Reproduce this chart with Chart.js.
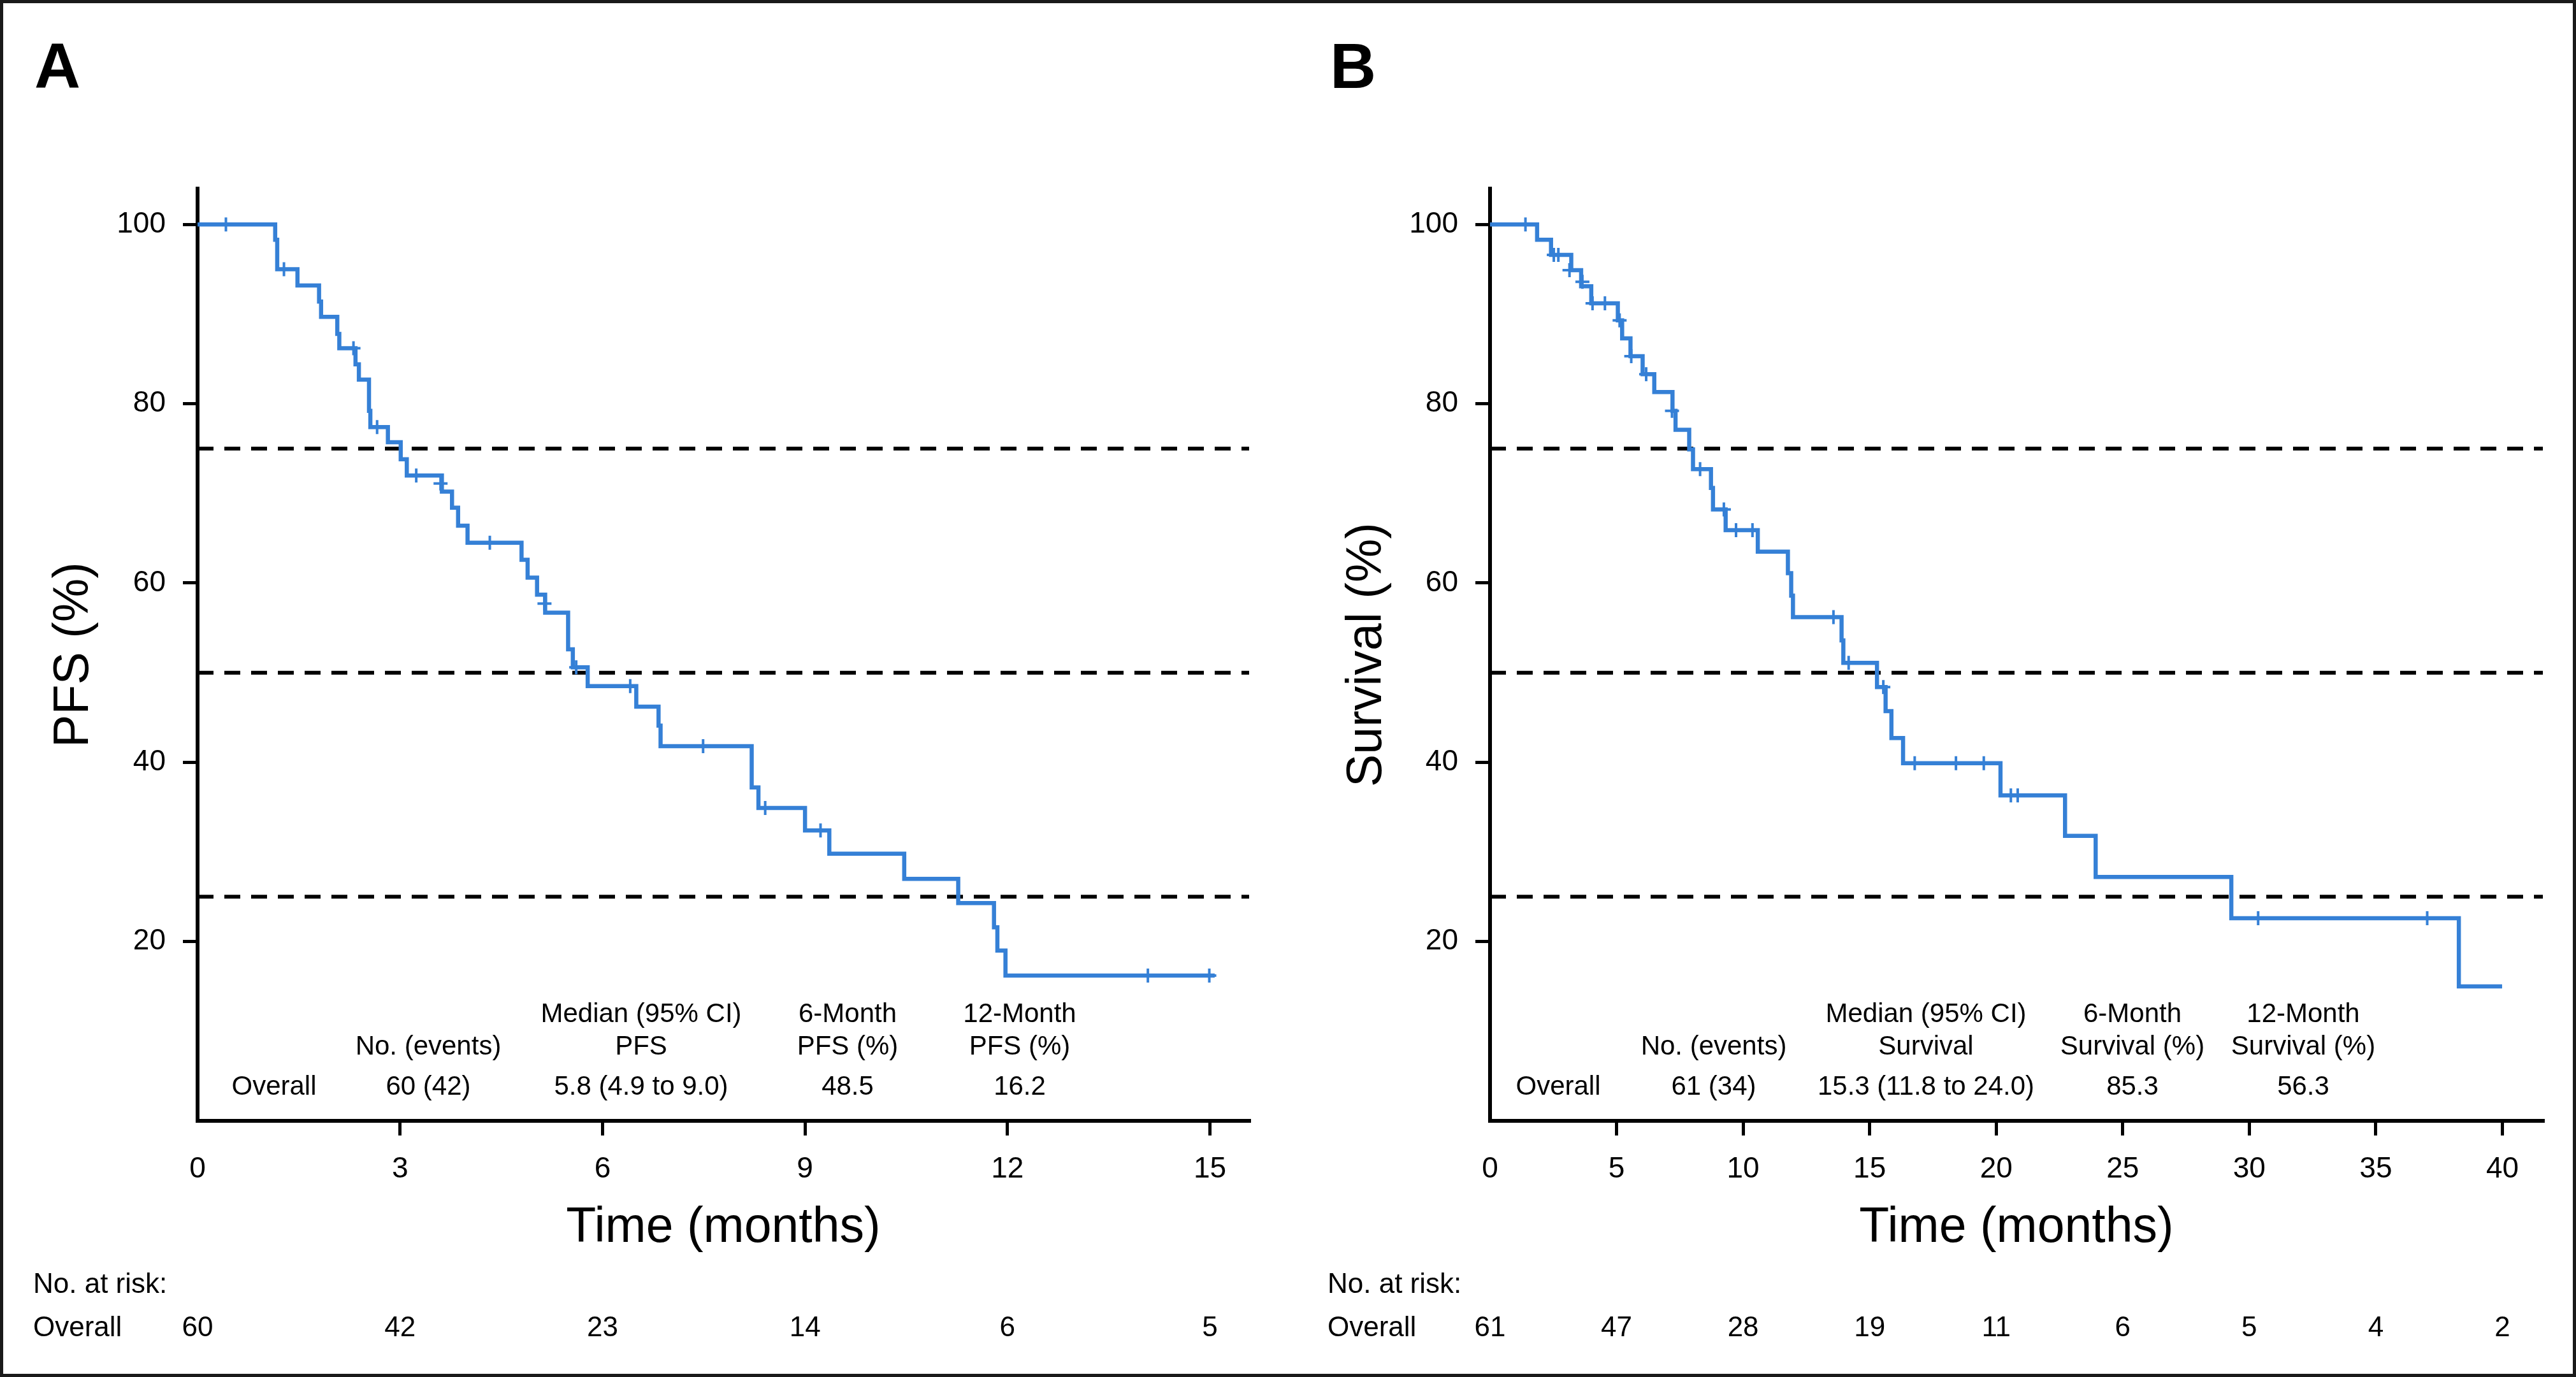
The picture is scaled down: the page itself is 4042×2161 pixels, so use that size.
<!DOCTYPE html>
<html>
<head>
<meta charset="utf-8">
<title>Kaplan-Meier: PFS and overall survival</title>
<script src="https://cdn.jsdelivr.net/npm/chart.js@4.4.1/dist/chart.umd.min.js"></script>
<style>
  html, body { margin: 0; padding: 0; background: #fff; }
  #wrap { position: relative; width: 4042px; height: 2161px; overflow: hidden; }
  .panel { position: absolute; top: 0; width: 2021px; height: 2161px; }
  #frame { position: absolute; left: 0; top: 0; width: 4042px; height: 2161px; box-sizing: border-box;
           border: 5px solid #1a1a1a; pointer-events: none; }
</style>
</head>
<body>
<div id="wrap">
  <div class="panel" style="left:0"><canvas id="pfsChart" width="2021" height="2161"></canvas></div>
  <div class="panel" style="left:2021px"><canvas id="osChart" width="2021" height="2161"></canvas></div>
  <div id="frame"></div>
</div>
<script>
const FONT = "'Liberation Sans', Arial, Helvetica, sans-serif";
const BLUE = '#3580d6';

// A - progression-free survival (months, %)
const pfsTime = [0, 1.15, 1.18, 1.48, 1.80, 1.83, 2.07, 2.10, 2.34, 2.39, 2.54, 2.56, 2.82, 3.01, 3.10,
  3.62, 3.77, 3.86, 4.00, 4.80, 4.89, 5.03, 5.15, 5.49, 5.56, 5.78, 6.50, 6.83, 6.86, 8.21, 8.31,
  9.00, 9.36, 10.47, 11.27, 11.80, 11.85, 11.97, 15.07];
const pfsSurv = [100, 98.3, 95.0, 93.2, 91.4, 89.7, 87.8, 86.2, 84.4, 82.7, 79.2, 77.4, 75.7, 73.8, 72.0,
  70.2, 68.4, 66.4, 64.5, 62.6, 60.6, 58.7, 56.7, 52.6, 50.6, 48.5, 46.2, 44.1, 41.8, 37.2, 34.9,
  32.4, 29.8, 27.0, 24.3, 21.6, 19.0, 16.2, 16.2];
const pfsCensorTime = [0.42, 1.28, 2.31, 2.66, 3.24, 3.60, 4.33, 5.14, 5.61, 6.41, 7.49, 8.41, 9.23, 14.08, 14.99];
const pfsCensorSurv = [100, 95.0, 86.2, 77.4, 72.0, 71.1, 64.5, 57.7, 50.6, 48.5, 41.8, 34.9, 32.4, 16.2, 16.2];
const pfsRiskTime = [0, 3, 6, 9, 12, 15];
const pfsAtRisk = [60, 42, 23, 14, 6, 5];
const pfsHead1 = ['', '', 'Median (95% CI)', '6-Month', '12-Month'];
const pfsHead2 = ['', 'No. (events)', 'PFS', 'PFS (%)', 'PFS (%)'];
const pfsRow = ['Overall', '60 (42)', '5.8 (4.9 to 9.0)', '48.5', '16.2'];

// B - overall survival (months, %)
const osTime = [0, 1.86, 2.41, 3.21, 3.60, 4.00, 5.05, 5.22, 5.55, 6.03, 6.49, 7.21, 7.33, 7.87, 8.02,
  8.73, 8.81, 9.31, 10.58, 11.77, 11.90, 11.97, 13.89, 13.96, 15.29, 15.63, 15.86, 16.32, 20.17,
  22.72, 23.93, 29.29, 38.28, 39.99];
const osSurv = [100, 98.3, 96.6, 94.9, 93.1, 91.2, 89.3, 87.3, 85.3, 83.3, 81.3, 79.2, 77.1, 74.9, 72.7,
  70.6, 68.2, 65.9, 63.5, 61.1, 58.6, 56.2, 53.6, 51.1, 48.4, 45.7, 42.7, 39.9, 36.3,
  31.8, 27.2, 22.6, 15.0, 15.0];
const osCensorTime = [1.40, 2.52, 2.70, 3.14, 3.65, 4.05, 4.54, 5.12, 5.58, 6.17, 7.19, 8.30, 9.24, 9.72, 10.37,
  13.57, 14.17, 15.54, 16.78, 18.41, 19.51, 20.58, 20.85, 30.35, 37.03];
const osCensorSurv = [100, 96.6, 96.6, 94.9, 93.6, 91.2, 91.2, 89.3, 85.3, 83.3, 79.2, 72.7, 68.2, 65.9, 65.9,
  56.2, 51.1, 48.4, 39.9, 39.9, 39.9, 36.3, 36.3, 22.6, 22.6];
const osRiskTime = [0, 5, 10, 15, 20, 25, 30, 35, 40];
const osAtRisk = [61, 47, 28, 19, 11, 6, 5, 4, 2];
const osHead1 = ['', '', 'Median (95% CI)', '6-Month', '12-Month'];
const osHead2 = ['', 'No. (events)', 'Survival', 'Survival (%)', 'Survival (%)'];
const osRow = ['Overall', '61 (34)', '15.3 (11.8 to 24.0)', '85.3', '56.3'];

const refLevels = [25, 50, 75];
const yTicks = { max: 104, step: 20 };

// baselines of the summary table rows and the at-risk rows
const tableY = [1604, 1655, 1718];
const riskY = [2029, 2097];

function textPlugin(o) {
  return {
    id: 'kmText',
    afterDraw(chart) {
      const { ctx, chartArea, scales } = chart;
      ctx.save();
      ctx.fillStyle = '#000';
      ctx.textBaseline = 'alphabetic';

      ctx.font = `bold 100px ${FONT}`;
      ctx.textAlign = 'left';
      ctx.fillText(o.letter, o.letterX, 138);

      ctx.font = `77px ${FONT}`;
      ctx.textAlign = 'center';
      ctx.fillText('Time (months)', (chartArea.left + chartArea.right) / 2, 1949);
      ctx.save();
      ctx.translate(o.yTitleX, (chartArea.top + chartArea.bottom) / 2);
      ctx.rotate(-Math.PI / 2);
      ctx.fillText(o.yTitle, 0, 0);
      ctx.restore();

      ctx.font = `42px ${FONT}`;
      const rows = [o.head1, o.head2, o.row];
      rows.forEach((line, r) => {
        line.forEach((s, c) => ctx.fillText(s, o.colX[c], tableY[r]));
      });

      ctx.font = `44px ${FONT}`;
      ctx.textAlign = 'left';
      ctx.fillText('No. at risk:', o.riskLabelX, riskY[0]);
      ctx.fillText('Overall', o.riskLabelX, riskY[1]);
      ctx.textAlign = 'center';
      o.riskTime.forEach((t, i) => {
        ctx.fillText(String(o.atRisk[i]), scales.x.getPixelForValue(t), riskY[1]);
      });
      ctx.restore();
    }
  };
}

function kmChart(id, o) {
  const pts = o.time.map((t, i) => ({ x: t, y: o.surv[i] }));
  const cens = o.censTime.map((t, i) => ({ x: t, y: o.censSurv[i] }));
  const refs = refLevels.map(l => ({
    data: [{ x: 0, y: l }, { x: o.xMax, y: l }],
    borderColor: '#000', borderWidth: 6, borderDash: [25, 17], pointRadius: 0, order: 3
  }));
  const grid = {
    drawOnChartArea: false, drawTicks: true, tickLength: 23, lineWidth: 5,
    color: c => (c.tick && c.tick.value === 0) ? 'rgba(0,0,0,0)' : '#000'
  };
  const border = { display: true, color: '#000', width: 6 };
  const tickFont = { family: FONT, size: 46 };

  new Chart(document.getElementById(id), {
    type: 'line',
    data: {
      datasets: [
        { data: pts, stepped: true, borderColor: BLUE, borderWidth: 6.5, pointRadius: 0,
          borderCapStyle: 'butt', borderJoinStyle: 'miter', fill: false, order: 1 },
        { data: cens, showLine: false, pointStyle: 'cross', pointRadius: 11, pointBorderWidth: 4,
          pointBorderColor: BLUE, borderColor: BLUE, order: 0 },
        ...refs
      ]
    },
    options: {
      responsive: false,
      animation: false,
      events: [],
      layout: { padding: { left: o.padL, right: o.padR, top: 296, bottom: 202 } },
      scales: {
        x: {
          type: 'linear', min: 0, max: o.xMax,
          afterFit: s => { s.height = 200 },
          grid: grid, border: border,
          ticks: { stepSize: o.xStep, includeBounds: false, autoSkip: false, maxRotation: 0,
                   color: '#000', font: tickFont, padding: 26 }
        },
        y: {
          type: 'linear', min: 0, max: yTicks.max,
          afterFit: s => { s.width = 200 },
          grid: grid, border: border,
          ticks: { stepSize: yTicks.step, includeBounds: false, autoSkip: false, color: '#000',
                   font: tickFont, padding: 27, callback: v => v === 0 ? '' : v }
        }
      },
      plugins: { legend: { display: false }, tooltip: { enabled: false } }
    },
    plugins: [textPlugin(o)]
  });
}

document.addEventListener('DOMContentLoaded', () => {
  kmChart('pfsChart', {
    time: pfsTime, surv: pfsSurv, censTime: pfsCensorTime, censSurv: pfsCensorSurv,
    riskTime: pfsRiskTime, atRisk: pfsAtRisk, head1: pfsHead1, head2: pfsHead2, row: pfsRow,
    xMax: 15.58, xStep: 3, padL: 110, padR: 61,
    letter: 'A', letterX: 54, yTitle: 'PFS (%)', yTitleX: 138, riskLabelX: 52,
    colX: [430, 672, 1006, 1330, 1600]
  });
  kmChart('osChart', {
    time: osTime, surv: osSurv, censTime: osCensorTime, censSurv: osCensorSurv,
    riskTime: osRiskTime, atRisk: osAtRisk, head1: osHead1, head2: osHead2, row: osRow,
    xMax: 41.6, xStep: 5, padL: 117, padR: 52,
    letter: 'B', letterX: 66, yTitle: 'Survival (%)', yTitleX: 146, riskLabelX: 62,
    colX: [424, 668, 1001, 1325, 1593]
  });
});
</script>
</body>
</html>
